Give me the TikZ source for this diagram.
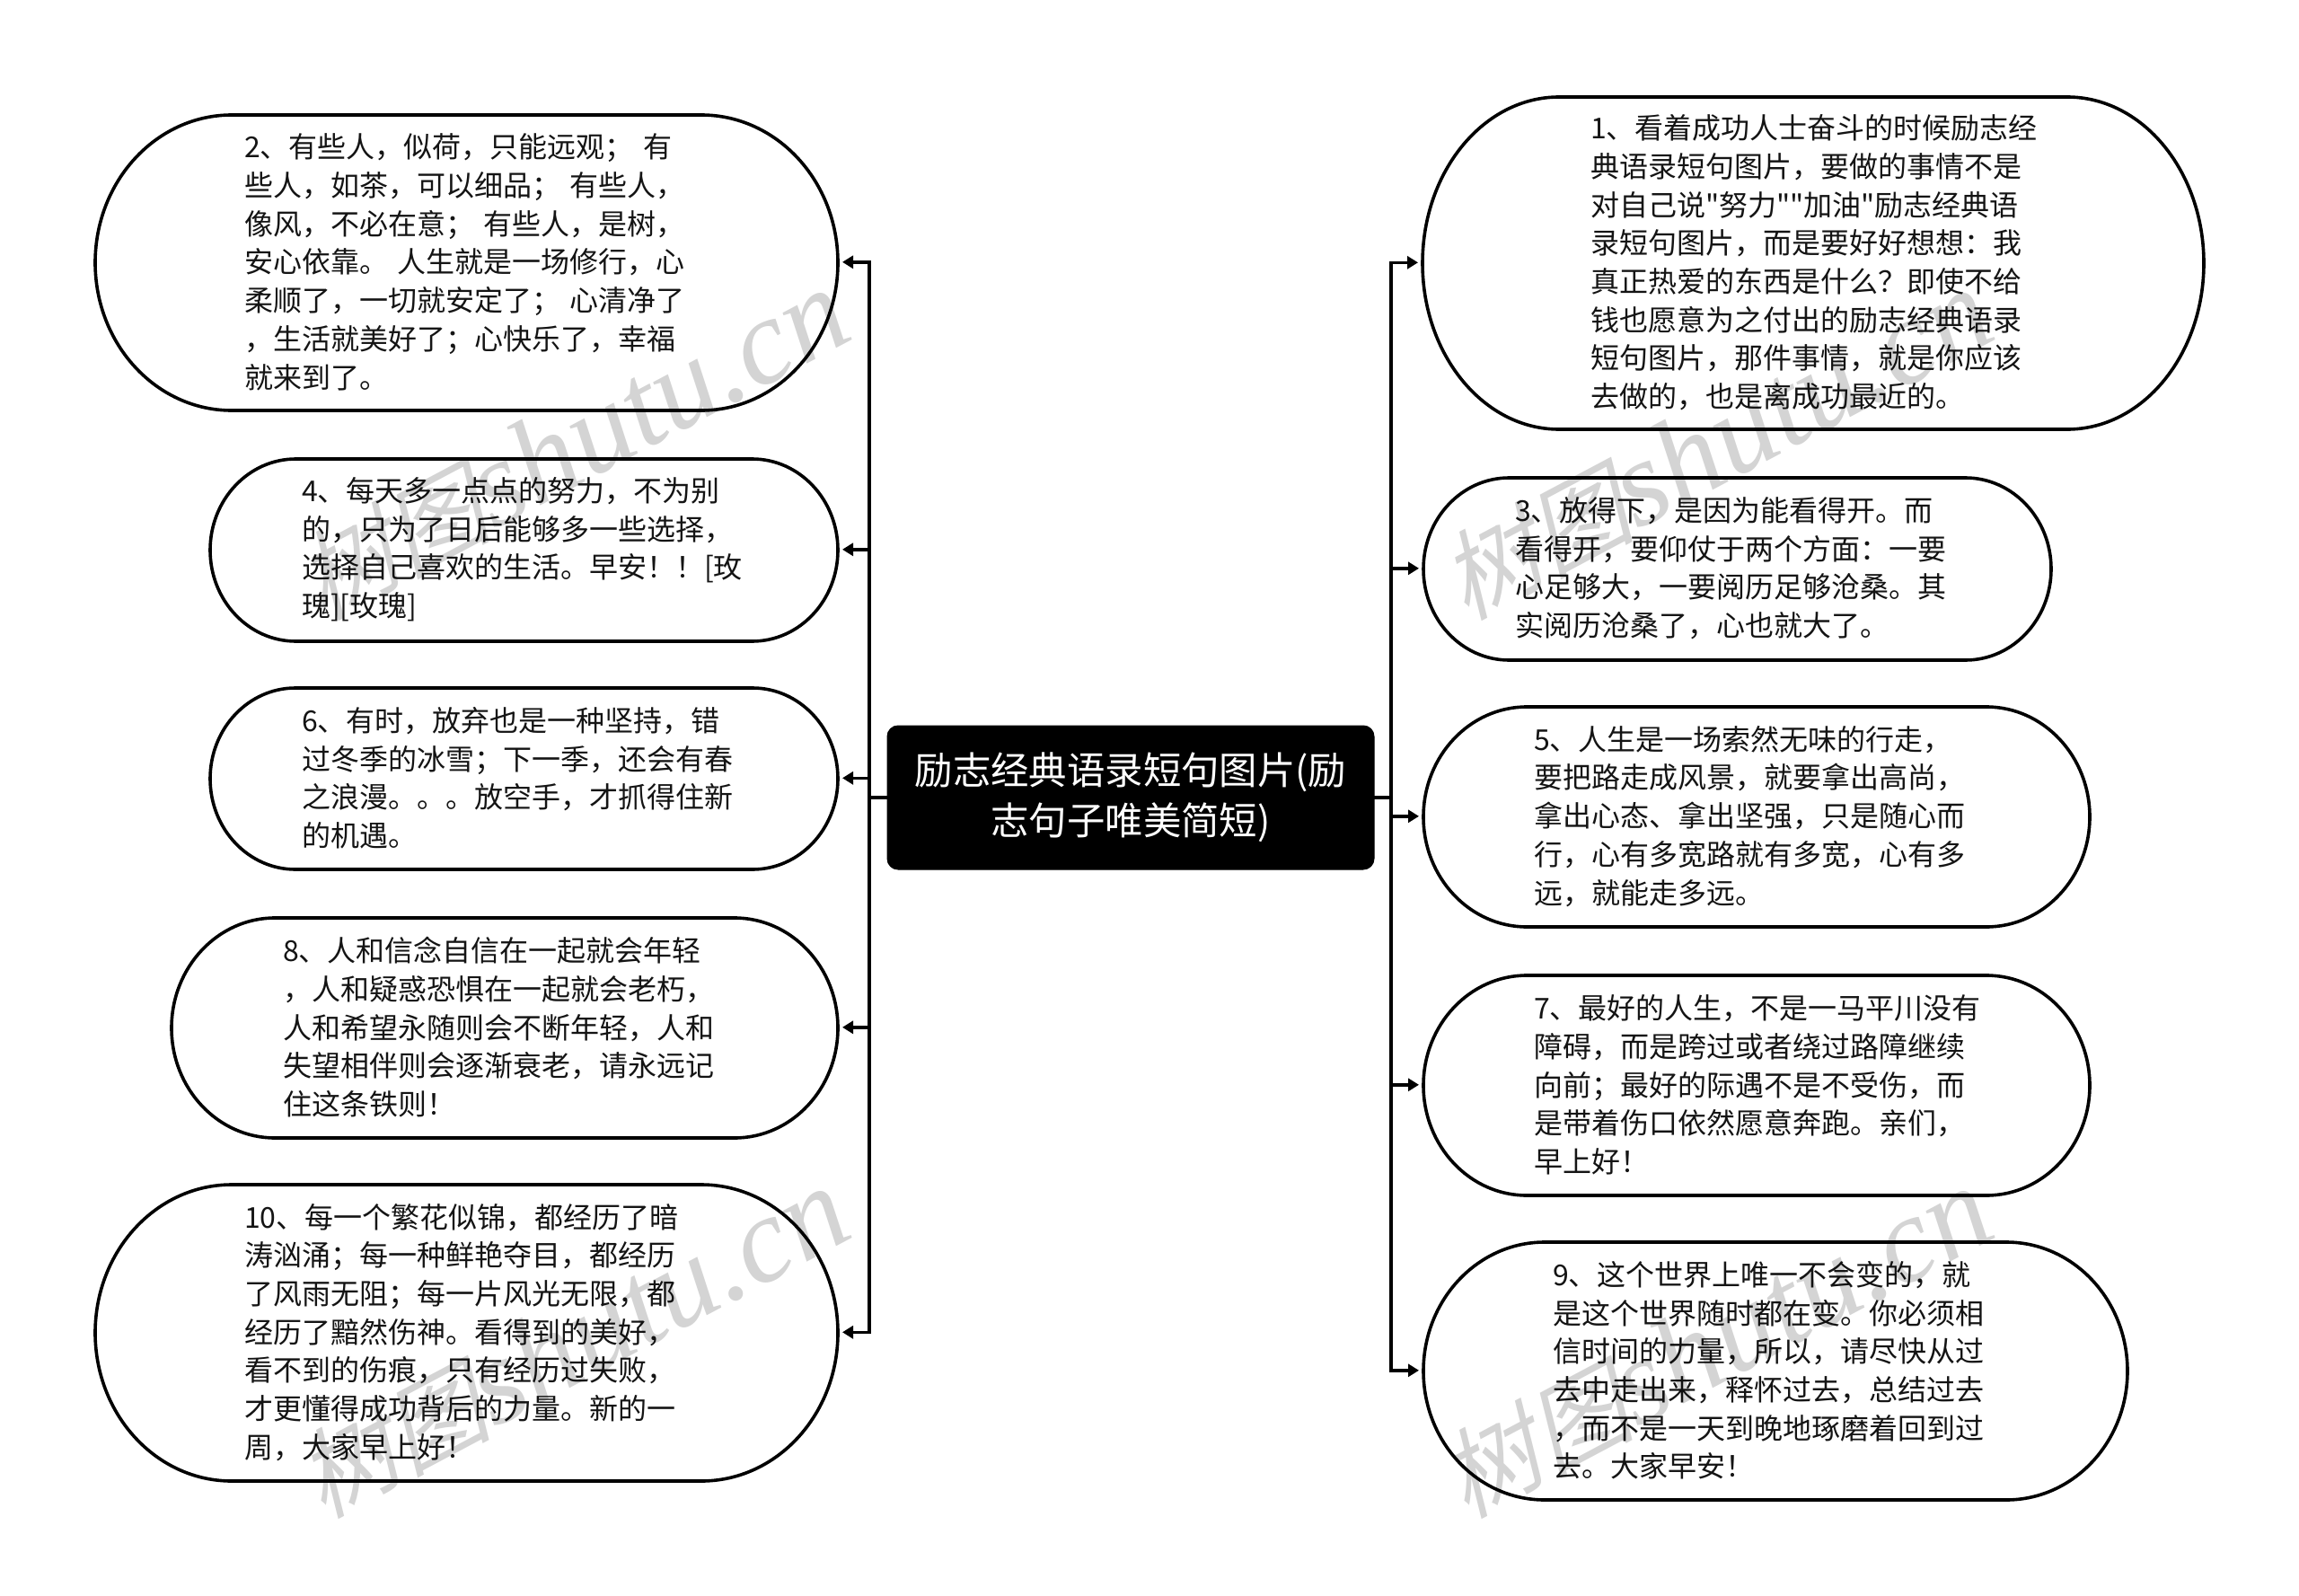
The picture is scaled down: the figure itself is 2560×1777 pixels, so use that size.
\documentclass[tikz,border=0pt]{standalone}
\usepackage{fontspec}
\setmainfont{Noto Sans CJK SC}[Ligatures=TeXOff]
\newfontfamily\wmcjk[FakeSlant=0.25]{Noto Sans CJK SC}
\newfontfamily\wmlat{Liberation Serif}[ItalicFont=Liberation Serif Italic]
\usetikzlibrary{arrows.meta,calc}
\tikzset{
  pillbox/.style={rectangle,outer sep=0pt,inner ysep=0pt,align=left,text=black!92,
    font=\fontsize{16}{21.35}\selectfont},
  pillline/.style={draw=black,line width=1.8pt,fill=white},
  centerbox/.style={rectangle,rounded corners=6pt,fill=black,draw=black,line width=.5pt,text=white,
    minimum width=271pt,minimum height=80pt,text width=255pt,inner sep=0pt,outer sep=0pt,align=center,
    font=\fontsize{21.2}{28}\selectfont},
  stem/.style={draw=black,line width=1.7pt},
  link/.style={draw=black,line width=1.7pt,-{Triangle[length=6pt,width=7pt]},shorten >=2.5pt},
  watermark/.style={rotate=28,text=black,opacity=.17},
}
\newcommand\pill[7]{%
  \pgfmathsetmacro\pw{(#4-#2)*0.5}%
  \pgfmathsetmacro\ph{(#5-#3)*0.5}%
  \pgfmathsetmacro\pad{(#6-#2)*0.5}%
  \pgfmathsetmacro\tw{\pw-2*\pad}%
  \pgfmathsetmacro\ry{\ph/2}%
  \pgfmathsetmacro\rx{min(0.94*\ry,76)}%
  \pgfmathsetmacro\rxu{2*\rx}%
  \path[pillline] (#2+\rxu,#3) -- (#4-\rxu,#3)
    arc[start angle=90,end angle=-90,x radius=\rx pt,y radius=\ry pt]
    -- (#2+\rxu,#5)
    arc[start angle=270,end angle=90,x radius=\rx pt,y radius=\ry pt] -- cycle;
  \node[pillbox,minimum width=\pw pt,minimum height=\ph pt,inner xsep=\pad pt,text width=\tw pt]
    (#1) at ({(#2+#4)/2},{(#3+#5)/2-0.7}) {#7};
}
\begin{document}
\begin{tikzpicture}[x=0.5pt,y=-0.5pt]
\useasboundingbox (0,0) rectangle (2560,1777);
\fill[white] (0,0) rectangle (2560,1777);

\pill{n2}{106}{128}{933}{457}{272}{2、有些人，似荷，只能远观；~有\\些人，如茶，可以细品；~有些人，\\像风，不必在意；~有些人，是树，\\安心依靠。~人生就是一场修行，心\\柔顺了，一切就安定了；~心清净了\\，生活就美好了；心快乐了，幸福\\就来到了。}
\pill{n4}{234}{511}{933}{714}{336}{4、每天多一点点的努力，不为别\\的，只为了日后能够多一些选择，\\选择自己喜欢的生活。早安！！[玫\\瑰][玫瑰]}
\pill{n6}{234}{766}{933}{968}{336}{6、有时，放弃也是一种坚持，错\\过冬季的冰雪；下一季，还会有春\\之浪漫。。。放空手，才抓得住新\\的机遇。}
\pill{n8}{191}{1022}{933}{1267}{315}{8、人和信念自信在一起就会年轻\\，人和疑惑恐惧在一起就会老朽，\\人和希望永随则会不断年轻，人和\\失望相伴则会逐渐衰老，请永远记\\住这条铁则！}
\pill{n10}{106}{1319}{933}{1649}{272}{10、每一个繁花似锦，都经历了暗\\涛汹涌；每一种鲜艳夺目，都经历\\了风雨无阻；每一片风光无限，都\\经历了黯然伤神。看得到的美好，\\看不到的伤痕，只有经历过失败，\\才更懂得成功背后的力量。新的一\\周，大家早上好！}

\pill{n1}{1584}{108}{2454}{478}{1771}{1、看着成功人士奋斗的时候励志经\\典语录短句图片，要做的事情不是\\对自己说"努力""加油"励志经典语\\录短句图片，而是要好好想想：我\\真正热爱的东西是什么？即使不给\\钱也愿意为之付出的励志经典语录\\短句图片，那件事情，就是你应该\\去做的，也是离成功最近的。}
\pill{n3}{1585}{532}{2284}{735}{1687}{3、放得下，是因为能看得开。而\\看得开，要仰仗于两个方面：一要\\心足够大，一要阅历足够沧桑。其\\实阅历沧桑了，心也就大了。}
\pill{n5}{1585}{787}{2327}{1032}{1708}{5、人生是一场索然无味的行走，\\要把路走成风景，就要拿出高尚，\\拿出心态、拿出坚强，只是随心而\\行，心有多宽路就有多宽，心有多\\远，就能走多远。}
\pill{n7}{1585}{1086}{2327}{1331}{1708}{7、最好的人生，不是一马平川没有\\障碍，而是跨过或者绕过路障继续\\向前；最好的际遇不是不受伤，而\\是带着伤口依然愿意奔跑。亲们，\\早上好！}
\pill{n9}{1585}{1383}{2369}{1670}{1729}{9、这个世界上唯一不会变的，就\\是这个世界随时都在变。你必须相\\信时间的力量，所以，请尽快从过\\去中走出来，释怀过去，总结过去\\，而不是一天到晚地琢磨着回到过\\去。大家早安！}

\node[centerbox] (c) at (1259,888) {\raisebox{-.6pt}{励志经典语录短句图片(励}\\\raisebox{-.6pt}{志句子唯美简短)}};

\coordinate (ls) at (968,888);
\coordinate (rs) at (1549,888);
\draw[stem] (c.west) -- (ls);
\draw[stem] (c.east) -- (rs);
\foreach \n in {n2,n4,n6,n8,n10} \draw[link] (ls) |- (\n.east);
\foreach \n in {n1,n3,n5,n7,n9} \draw[link] (rs) |- (\n.west);

\foreach \p/\q in {637/496,637/1496,1910/496,1910/1496}
  \node[watermark] at (\p,\q) {{\fontsize{54}{60}\selectfont\wmcjk 树图}{\fontsize{68}{60}\selectfont\wmlat\itshape shutu.cn}};
\end{tikzpicture}
\end{document}
